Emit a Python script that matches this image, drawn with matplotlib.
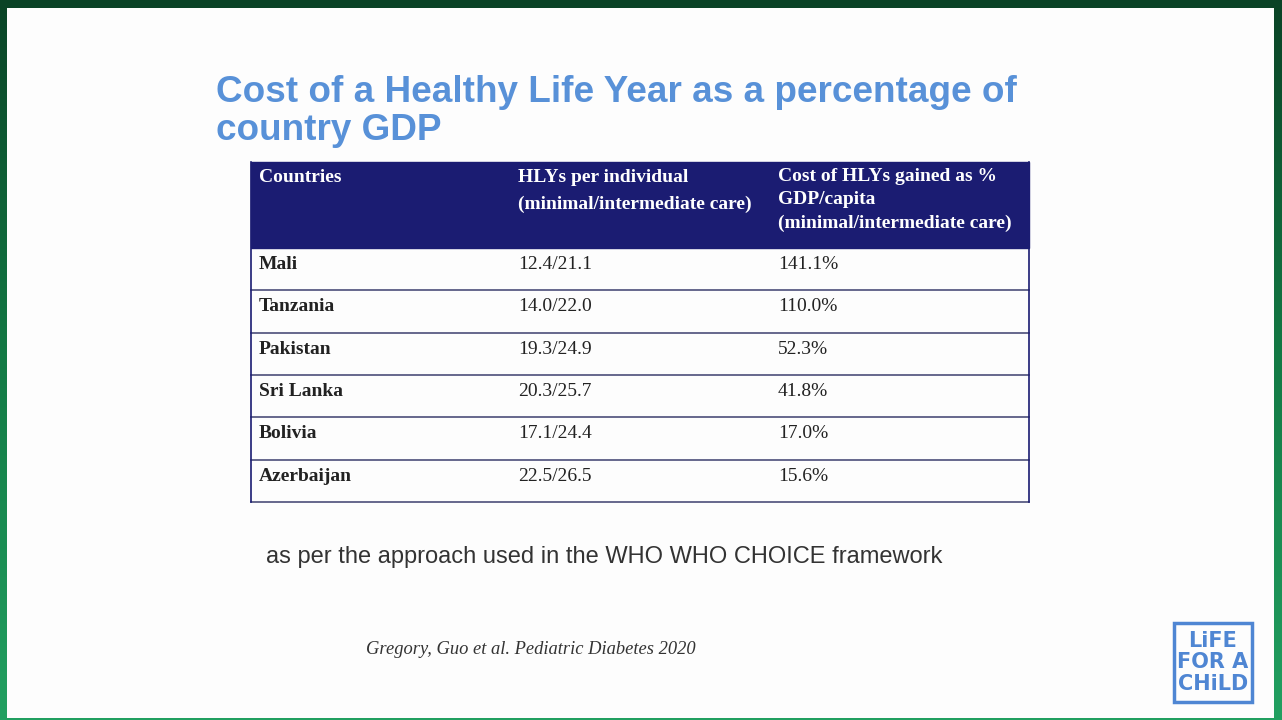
import numpy as np
import matplotlib
matplotlib.use('Agg')
import matplotlib.pyplot as plt
from matplotlib.patches import Rectangle
from matplotlib.colors import LinearSegmentedColormap

title_lines = ["Cost of a Healthy Life Year as a percentage of", "country GDP"]
header_col1 = ["Countries"]
header_col2 = ["HLYs per individual", "(minimal/intermediate care)"]
header_col3 = ["Cost of HLYs gained as %", "GDP/capita", "(minimal/intermediate care)"]
countries = ["Mali", "Tanzania", "Pakistan", "Sri Lanka", "Bolivia", "Azerbaijan"]
hlys = ["12.4/21.1", "14.0/22.0", "19.3/24.9", "20.3/25.7", "17.1/24.4", "22.5/26.5"]
cost_pct = [141.1, 110.0, 52.3, 41.8, 17.0, 15.6]
note = "as per the approach used in the WHO WHO CHOICE framework"
citation = "Gregory, Guo et al. Pediatric Diabetes 2020"
logo_lines = ["LiFE", "FOR A", "CHiLD"]

W, H = 1282, 720
fig = plt.figure(figsize=(W / 100, H / 100), dpi=100)
ax = fig.add_axes([0, 0, 1, 1])
ax.set_xlim(0, W)
ax.set_ylim(H, 0)
ax.axis('off')

# green frame, darker at the top
green = LinearSegmentedColormap.from_list('g', ['#0a4326', '#137a45', '#22a061'])
grad = np.linspace(0, 1, 256).reshape(-1, 1)
ax.imshow(grad, cmap=green, extent=[0, W, H, 0], aspect='auto', zorder=0)
ax.add_patch(Rectangle((7, 8), 1267, 710, facecolor='#fdfdfd', edgecolor='none', zorder=1))

# title
title_color = '#5891d8'
for i, line in enumerate(title_lines):
    ax.text(216, 102 + 38 * i, line, fontsize=26.55, fontweight='bold', color=title_color,
            family='Liberation Sans', va='baseline', ha='left', zorder=3)

# table
left, right = 251, 1029
head_top, head_bot = 162, 248
row_h = (502 - head_bot) / len(countries)
col_x = [259, 518, 778]
navy = '#1b1c72'
serif = 'Liberation Serif'
fs = 14

ax.add_patch(Rectangle((left, head_top), right - left, head_bot - head_top,
                       facecolor=navy, edgecolor=navy, lw=1, zorder=2))
for j, line in enumerate(header_col1):
    ax.text(col_x[0], 182, line, fontsize=fs, fontweight='bold', color='white',
            family=serif, va='baseline', zorder=3)
for j, line in enumerate(header_col2):
    ax.text(col_x[1], 182 + 27 * j, line, fontsize=fs, fontweight='bold', color='white',
            family=serif, va='baseline', zorder=3)
for j, line in enumerate(header_col3):
    ax.text(col_x[2], 181 + 23.5 * j, line, fontsize=fs, fontweight='bold', color='white',
            family=serif, va='baseline', zorder=3)

line_color = '#3c3f6e'
for i, (c, h, p) in enumerate(zip(countries, hlys, cost_pct)):
    top = head_bot + i * row_h
    bot = top + row_h
    ax.plot([left, right], [bot, bot], color=line_color, lw=1.1, zorder=3)
    base = top + 21
    ax.text(col_x[0], base, c, fontsize=fs, fontweight='bold', color='#222222',
            family=serif, va='baseline', zorder=3)
    ax.text(col_x[1], base, h, fontsize=fs, color='#222222',
            family=serif, va='baseline', zorder=3)
    ax.text(col_x[2], base, f"{p:.1f}%", fontsize=fs, color='#222222',
            family=serif, va='baseline', zorder=3)
ax.plot([left, left], [head_top, 502], color=navy, lw=1.2, zorder=3)
ax.plot([right, right], [head_top, 502], color=navy, lw=1.2, zorder=3)

# notes
ax.text(266, 557, note, fontsize=17.05, color='#333333', family='Liberation Sans',
        va='center', ha='left', zorder=3)
ax.text(366, 649, citation, fontsize=13.3, color='#333333', family=serif, style='italic',
        va='center', ha='left', zorder=3)

# logo
logo_blue = '#4f86d3'
ax.add_patch(Rectangle((1174, 623), 78, 79, facecolor='none', edgecolor=logo_blue, lw=2.5, zorder=3))
for i, line in enumerate(logo_lines):
    ax.text(1213, 641 + 21.5 * i, line, fontsize=15, fontweight='bold', color=logo_blue,
            family='DejaVu Sans', ha='center', va='center', zorder=3)

fig.savefig('out.png', dpi=100)
plt.close(fig)
